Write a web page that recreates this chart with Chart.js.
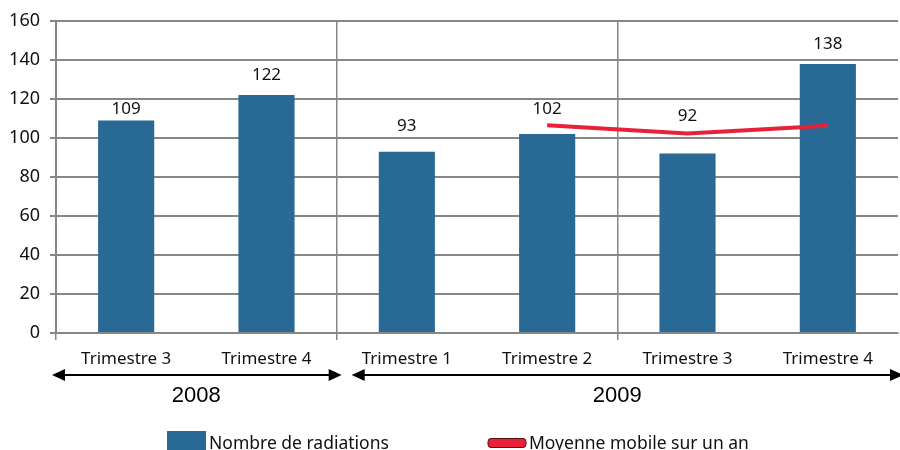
<!DOCTYPE html>
<html>
<head>
<meta charset="utf-8">
<script src="https://cdn.jsdelivr.net/npm/chart.js@4"></script>
<style>
html,body{margin:0;padding:0;background:#fff;}
#wrap{width:900px;height:450px;}
</style>
</head>
<body>
<div id="wrap"><canvas id="c" width="900" height="450"></canvas></div>
<script>
// données
var trimestres = ['Trimestre 3','Trimestre 4','Trimestre 1','Trimestre 2','Trimestre 3','Trimestre 4'];
var radiations = [109,122,93,102,92,138];
var moyenne = [null,null,null,106.5,102.25,106.25];
var annees = ['2008','2009'];
var anneeDebut = [0,2]; // premier trimestre de chaque année (index)
var anneeFin = [2,6];
var yTicks = [0,20,40,60,80,100,120,140,160];

var bleu = '#286996';
var rouge = '#e8203a';
var gris = '#878787';
var police = '"Noto Sans", sans-serif';

/* étiquettes au-dessus des barres (décalage en px au-dessus du haut de barre) */
var valeurs = {
  id:'valeurs',
  afterDatasetsDraw:function(chart,args,opts){
    var ctx = chart.ctx;
    var meta = chart.getDatasetMeta(0);
    ctx.save();
    ctx.fillStyle = '#111';
    ctx.font = '17px ' + police;
    ctx.textAlign = 'center';
    ctx.textBaseline = 'middle';
    meta.data.forEach(function(bar,i){
      ctx.fillText(radiations[i], bar.x, bar.y - opts.decalage[i]);
    });
    ctx.restore();
  }
};

/* flèches des années + légende */
var annexe = {
  id:'annexe',
  afterDraw:function(chart){
    var ctx = chart.ctx;
    var x = chart.scales.x;
    var w = x.getPixelForValue(1) - x.getPixelForValue(0);
    var yA = 375;
    ctx.save();
    ctx.strokeStyle = '#000';
    ctx.fillStyle = '#000';
    ctx.lineWidth = 2;
    annees.forEach(function(a,k){
      var x1 = x.getPixelForValue(anneeDebut[k]) - w/2 + (k === 0 ? -4 : 15);
      var x2 = x.getPixelForValue(anneeFin[k]) - w/2 + 5;
      ctx.beginPath();
      ctx.moveTo(x1+10, yA);
      ctx.lineTo(x2-10, yA);
      ctx.stroke();
      ctx.beginPath();
      ctx.moveTo(x1, yA); ctx.lineTo(x1+13, yA-6); ctx.lineTo(x1+13, yA+6); ctx.closePath();
      ctx.fill();
      ctx.beginPath();
      ctx.moveTo(x2, yA); ctx.lineTo(x2-13, yA-6); ctx.lineTo(x2-13, yA+6); ctx.closePath();
      ctx.fill();
      ctx.font = '22px "Liberation Sans", Arial, sans-serif';
      ctx.textAlign = 'center';
      ctx.textBaseline = 'middle';
      var cx = (x.getPixelForValue(anneeDebut[k]) + x.getPixelForValue(anneeFin[k]-1)) / 2;
      ctx.fillText(a, cx, 396);
    });

    // légende
    ctx.fillStyle = bleu;
    ctx.fillRect(167, 431, 39, 19);
    ctx.fillStyle = rouge;
    ctx.strokeStyle = '#5a1010';
    ctx.lineWidth = 1;
    ctx.beginPath();
    ctx.roundRect(488, 438.5, 38, 9, 3);
    ctx.fill();
    ctx.stroke();
    ctx.fillStyle = '#111';
    ctx.font = '17.5px ' + police;
    ctx.textAlign = 'left';
    ctx.textBaseline = 'middle';
    ctx.fillText('Nombre de radiations', 209, 444);
    ctx.fillText('Moyenne mobile sur un an', 529, 444);
    ctx.restore();
  }
};

new Chart(document.getElementById('c'),{
  data:{
    labels:trimestres,
    datasets:[
      {
        type:'bar',
        label:'Nombre de radiations',
        data:radiations,
        backgroundColor:bleu,
        barPercentage:0.4,
        categoryPercentage:1,
        order:2
      },
      {
        type:'line',
        label:'Moyenne mobile sur un an',
        data:moyenne,
        borderColor:rouge,
        borderWidth:4,
        pointRadius:0,
        tension:0,
        order:1
      }
    ]
  },
  options:{
    responsive:false,
    animation:false,
    layout:{padding:{top:21,right:2,left:0,bottom:0}},
    plugins:{
      legend:{display:false},
      tooltip:{enabled:false},
      valeurs:{decalage:[11,20,25,25,37,20]}
    },
    scales:{
      x:{
        offset:true,
        afterFit:function(s){ s.height = 117; },
        grid:{
          offset:true,
          color:function(c){ return (c.index % 2 === 0) ? gris : 'rgba(0,0,0,0)'; },
          lineWidth:1.5,
          tickLength:7
        },
        border:{color:gris,width:2},
        ticks:{
          color:'#111',
          font:{family:police,size:17},
          padding:9,
          maxRotation:0
        }
      },
      y:{
        min:0,
        max:160,
        afterFit:function(s){ s.width = 56; },
        afterBuildTicks:function(s){ s.ticks = yTicks.map(function(v){ return {value:v}; }); },
        grid:{color:gris,lineWidth:2,tickLength:6},
        border:{color:gris,width:2},
        ticks:{
          color:'#111',
          font:{family:police,size:18},
          padding:10
        }
      }
    }
  },
  plugins:[valeurs,annexe]
});
</script>
</body>
</html>
